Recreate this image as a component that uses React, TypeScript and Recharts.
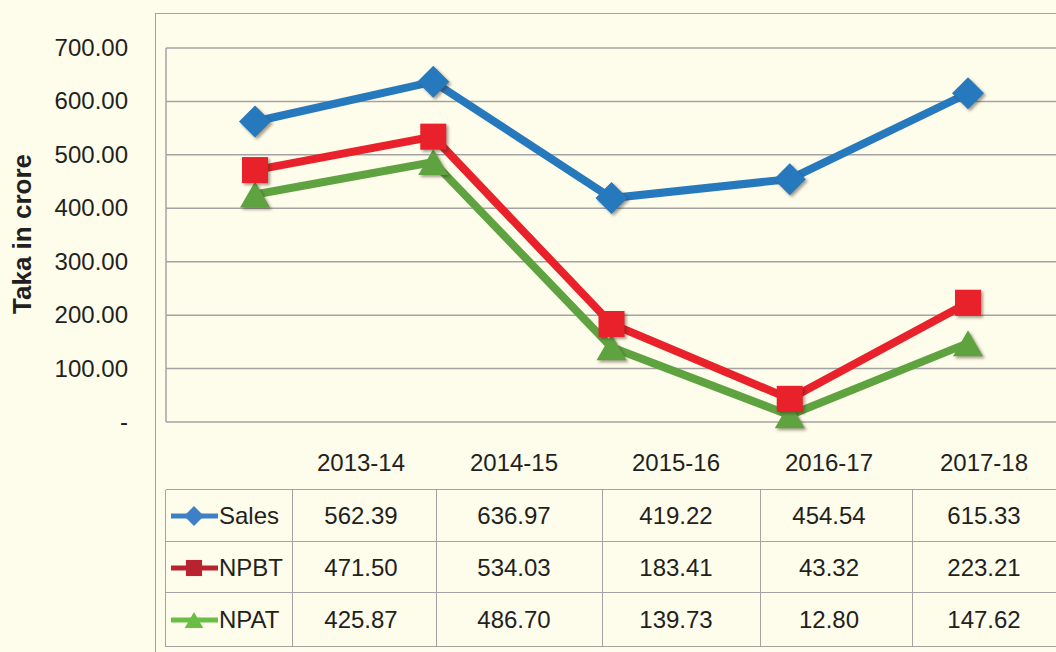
import React from 'react';
import { LineChart, Line, XAxis, YAxis, CartesianGrid } from 'recharts';

const years = ['2013-14', '2014-15', '2015-16', '2016-17', '2017-18'];
const sales = [562.39, 636.97, 419.22, 454.54, 615.33];
const npbt = [471.5, 534.03, 183.41, 43.32, 223.21];
const npat = [425.87, 486.7, 139.73, 12.8, 147.62];
const yTicks = [0, 100, 200, 300, 400, 500, 600, 700];

const FONT = '"Liberation Sans", Arial, Helvetica, sans-serif';
const TEXT = '#231F20';
const GRID = '#A3A3A3';
const BG = '#FEFCEB';
const FS = 24;

const data = years.map((year, i) => ({
  year,
  Sales: sales[i],
  NPBT: npbt[i],
  NPAT: npat[i],
}));

const series = [
  { key: 'Sales', values: sales, color: '#2779BD', legend: '#3E80C6', shape: 'diamond' },
  { key: 'NPBT', values: npbt, color: '#E8212B', legend: '#B8232F', shape: 'square' },
  { key: 'NPAT', values: npat, color: '#5FA341', legend: '#6BBE45', shape: 'triangle' },
];

const shadow = 'drop-shadow(2px 2px 1.5px rgba(60,40,20,0.45))';

const Marker = ({ cx, cy, shape, color, size = 1 }: any) => {
  if (cx == null || cy == null) return null;
  if (shape === 'diamond') {
    const r = 16 * size;
    return (
      <polygon
        points={`${cx},${cy - r} ${cx + r},${cy} ${cx},${cy + r} ${cx - r},${cy}`}
        fill={color}
        style={{ filter: size === 1 ? shadow : undefined }}
      />
    );
  }
  if (shape === 'square') {
    const h = 13 * size;
    return (
      <rect
        x={cx - h}
        y={cy - h}
        width={h * 2}
        height={h * 2}
        fill={color}
        style={{ filter: size === 1 ? shadow : undefined }}
      />
    );
  }
  const w = 15 * size;
  const h = 13 * size;
  return (
    <polygon
      points={`${cx},${cy - h} ${cx + w},${cy + h} ${cx - w},${cy + h}`}
      fill={color}
      style={{ filter: size === 1 ? shadow : undefined }}
    />
  );
};

const YTick = ({ y, payload }: any) => (
  <text x={128} y={y} dy={8} textAnchor="end" fill={TEXT} fontSize={FS} fontFamily={FONT}>
    {payload.value === 0 ? '-' : payload.value.toFixed(2)}
  </text>
);

// table column edges and text centres (px)
const colEdges = [166, 293, 437, 603, 761, 913];
const colCenters = [361, 514, 676, 829, 984];
const rowEdges = [490, 542, 593, 647];

const App: React.FC = () => {
  return (
    <div
      style={{
        position: 'absolute',
        left: 0,
        top: 0,
        width: 1056,
        height: 652,
        overflow: 'hidden',
        background: BG,
        fontFamily: FONT,
        color: TEXT,
      }}
    >
      {/* outer frame */}
      <div
        style={{
          position: 'absolute',
          left: 155,
          top: 13,
          width: 1000,
          height: 700,
          borderLeft: `1.5px solid ${GRID}`,
          borderTop: `1.5px solid ${GRID}`,
        }}
      />

      <div
        style={{
          position: 'absolute',
          left: 22,
          top: 234,
          transform: 'translate(-50%, -50%) rotate(-90deg)',
          whiteSpace: 'nowrap',
          fontWeight: 'bold',
          fontSize: 26,
        }}
      >
        Taka in crore
      </div>

      <div style={{ position: 'absolute', left: 0, top: 0 }}>
        <LineChart width={1057} height={652} data={data} margin={{ top: 48, right: 0, bottom: 230, left: 0 }}>
          <CartesianGrid vertical={false} stroke={GRID} strokeWidth={1.5} />
          <XAxis
            dataKey="year"
            tick={false}
            tickLine={false}
            axisLine={{ stroke: GRID, strokeWidth: 1.5 }}
            height={0}
            padding={{ left: 89, right: 89 }}
          />
          <YAxis
            width={166}
            domain={[0, 700]}
            ticks={yTicks}
            tick={<YTick />}
            tickLine={false}
            axisLine={{ stroke: GRID, strokeWidth: 1.5 }}
          />
          {[...series].reverse().map((s) => (
            <Line
              key={s.key}
              dataKey={s.key}
              stroke={s.color}
              strokeWidth={8}
              isAnimationActive={false}
              dot={(p: any) => <Marker key={`${s.key}-${p.index}`} cx={p.cx} cy={p.cy} shape={s.shape} color={s.color} />}
              activeDot={false}
            />
          ))}
        </LineChart>
      </div>

      {/* category labels */}
      {years.map((y, i) => (
        <div
          key={y}
          style={{
            position: 'absolute',
            left: colCenters[i] - 60,
            width: 120,
            top: 449,
            textAlign: 'center',
            fontSize: FS,
            lineHeight: '28px',
          }}
        >
          {y}
        </div>
      ))}

      {/* data table grid */}
      {rowEdges.map((y) => (
        <div
          key={`r${y}`}
          style={{ position: 'absolute', left: 166, top: y - 1, width: 900, height: 0, borderTop: `1.5px solid ${GRID}` }}
        />
      ))}
      {colEdges.map((x) => (
        <div
          key={`c${x}`}
          style={{
            position: 'absolute',
            left: x - 1,
            top: rowEdges[0],
            width: 0,
            height: rowEdges[3] - rowEdges[0],
            borderLeft: `1.5px solid ${GRID}`,
          }}
        />
      ))}

      {series.map((s, r) => {
        const cy = (rowEdges[r] + rowEdges[r + 1]) / 2;
        return (
          <React.Fragment key={s.key}>
            <svg style={{ position: 'absolute', left: 166, top: cy - 20 }} width={56} height={40}>
              <line x1={5} x2={52} y1={20} y2={20} stroke={s.legend} strokeWidth={5} />
              <Marker cx={28} cy={20} shape={s.shape} color={s.legend} size={0.62} />
            </svg>
            <div style={{ position: 'absolute', left: 219, top: cy - 14, fontSize: FS, lineHeight: '28px' }}>{s.key}</div>
            {s.values.map((v, i) => (
              <div
                key={i}
                style={{
                  position: 'absolute',
                  left: colCenters[i] - 60,
                  width: 120,
                  top: cy - 14,
                  textAlign: 'center',
                  fontSize: FS,
                  lineHeight: '28px',
                }}
              >
                {v.toFixed(2)}
              </div>
            ))}
          </React.Fragment>
        );
      })}
    </div>
  );
};

export default App;
